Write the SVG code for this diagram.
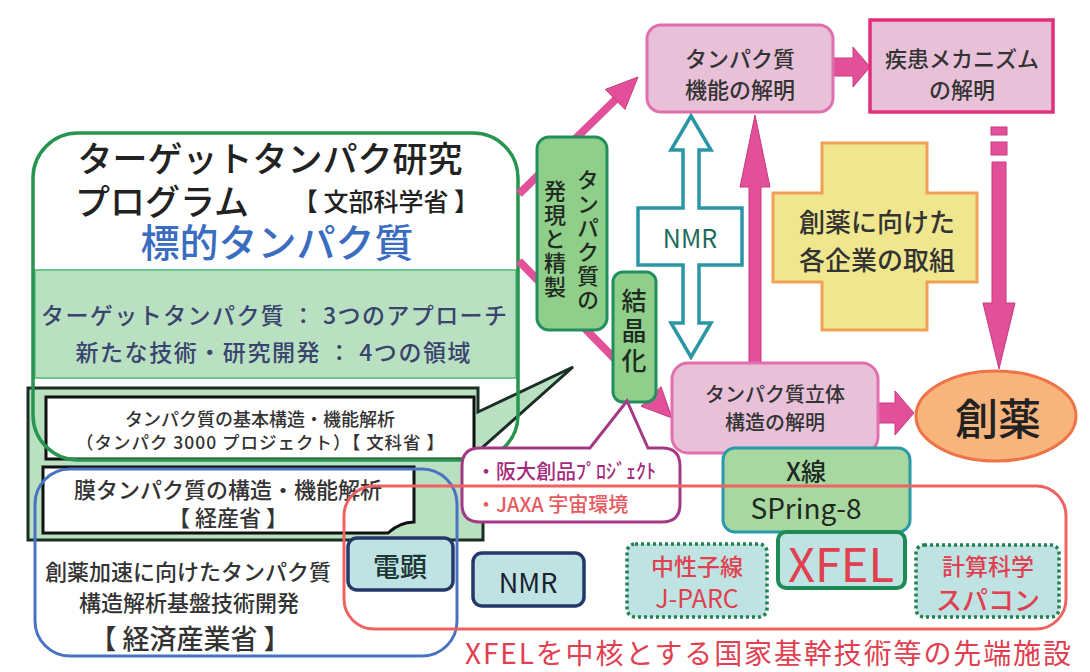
<svg xmlns="http://www.w3.org/2000/svg" width="1090" height="672" viewBox="0 0 1090 672" fill="#333">
<style>
text{font-family:"Noto Sans CJK JP","Noto Sans",sans-serif;dominant-baseline:central;text-anchor:middle;font-weight:500}
.lt{font-weight:400}
.pk{fill:#e8c1d9;stroke:#e06fae;stroke-width:3}
.pa{fill:#e2509a;stroke:#c8387f;stroke-width:1}
.pl{stroke:#e2509a;stroke-width:8;fill:none}
.gv{fill:#8fcf89;stroke:#22905e;stroke-width:3}
.tb{fill:#bfe3e3;stroke:#24386a;stroke-width:3.5}
.dot{fill:#bfe3e3;stroke:#1f8050;stroke-width:3.5;stroke-dasharray:3 3}
.rd{fill:#e0404f}
.wb{fill:#fff;stroke:#111;stroke-width:3}
.vt{writing-mode:vertical-rl;fill:#1f2a22}
</style>

<g id="program">
  <rect x="33" y="133" width="485" height="327" rx="45" fill="#fff"/>
  <rect x="35" y="270" width="481" height="108" fill="#b9e0c1" stroke="#74c68c" stroke-width="2"/>
  <text x="270" y="156" font-size="35" fill="#222">ターゲットタンパク研究</text>
  <text x="75" y="199" font-size="35" fill="#222" style="text-anchor:start">プログラム</text>
  <text x="386" y="200" font-size="25" fill="#222">【 文部科学省 】</text>
  <text x="277" y="240" font-size="39" fill="#3a6cc0">標的タンパク質</text>
  <text x="274" y="314" font-size="23" fill="#39456e" textLength="466">ターゲットタンパク質 ： 3つのアプローチ</text>
  <text x="273" y="351" font-size="23" fill="#39456e" textLength="395">新たな技術・研究開発 ： 4つの領域</text>
</g>

<g id="callout">
  <path d="M28,388 H478 V412 L573,367 L483,447 V540 H28 Z" fill="#b9e0c1" stroke="#1b2e26" stroke-width="3"/>
</g>

<g id="basic-analysis">
  <rect x="46" y="397" width="428" height="62" class="wb"/>
  <text x="260" y="418" font-size="18">タンパク質の基本構造・機能解析</text>
  <text x="260" y="441" font-size="17.5" textLength="368">（タンパク 3000 プロジェクト）【 文科省 】</text>
</g>

<g id="membrane-analysis">
  <path d="M43,467 H414 V522 Q400,522 388,533 H43 Z" class="wb"/>
  <text x="228" y="488" font-size="22">膜タンパク質の構造・機能解析</text>
  <text x="228" y="516" font-size="22">【 経産省 】</text>
</g>

<g id="program-outline">
  <rect x="33" y="133" width="485" height="327" rx="45" fill="none" stroke="#27954f" stroke-width="3.5"/>
</g>

<g id="meti">
  <rect x="35" y="469" width="422" height="187" rx="35" fill="none" stroke="#4a72c2" stroke-width="3"/>
  <text x="188" y="570" font-size="22">創薬加速に向けたタンパク質</text>
  <text x="189" y="601" font-size="22">構造解析基盤技術開発</text>
  <text x="190" y="637" font-size="27">【 経済産業省 】</text>
</g>

<g id="connectors">
  <line x1="519" y1="194" x2="616" y2="99" class="pl"/>
  <polygon points="638,77 625,109.4 605.4,89.4" class="pa"/>
  <line x1="519" y1="261" x2="652" y2="397" class="pl"/>
  <polygon points="672,418 661,386.7 641,406.3" class="pa"/>
  <polygon points="833,58 853,58 853,47 870,67 853,87 853,76 833,76" class="pa"/>
  <polygon points="878,403 895,403 895,391 914,413 895,435 895,423 878,423" class="pa"/>
  <polygon points="749,363 749,187 740,187 755,115 770,187 761,187 761,363" class="pa"/>
  <rect x="991" y="127" width="16" height="8" class="pa"/>
  <rect x="991" y="142" width="16" height="13" class="pa"/>
  <polygon points="992,162 1006,162 1006,303 1015,303 999,369 983,303 992,303" class="pa"/>
  <g id="nmr-arrow">
    <polygon points="691,116 711,150 699,150 699,208 742,208 742,265 699,265 699,323 711,323 691,357 671,323 683,323 683,265 638,265 638,208 683,208 683,150 671,150" fill="#fff" stroke="#2a96a4" stroke-width="3.5"/>
    <text x="690" y="237" font-size="25" fill="#1e6b5c" class="lt">NMR</text>
  </g>
</g>

<g id="expression">
  <rect x="537" y="137" width="70" height="193" rx="12" class="gv"/>
  <text x="588" y="241" font-size="22" letter-spacing="2" class="vt">タンパク質の</text>
  <text x="555" y="240" font-size="22" letter-spacing="2" class="vt">発現と精製</text>
</g>

<g id="crystal">
  <rect x="613" y="272" width="43" height="130" rx="10" class="gv"/>
  <text x="634" y="333" font-size="25" letter-spacing="5" class="vt">結晶化</text>
</g>

<g id="function">
  <rect x="647" y="25" width="186" height="87" rx="14" class="pk"/>
  <text x="740" y="57" font-size="22">タンパク質</text>
  <text x="740" y="88" font-size="22">機能の解明</text>
</g>

<g id="disease">
  <rect x="870" y="20" width="183" height="92" fill="#e8c1d9" stroke="#e0307a" stroke-width="3.5"/>
  <text x="962" y="57" font-size="22">疾患メカニズム</text>
  <text x="962" y="88" font-size="22">の解明</text>
</g>

<g id="structure">
  <rect x="672" y="363" width="206" height="90" rx="16" class="pk"/>
  <text x="775" y="393" font-size="20">タンパク質立体</text>
  <text x="775" y="421" font-size="20">構造の解明</text>
</g>

<g id="companies">
  <polygon points="822,143 927,143 927,193 977,193 977,282 927,282 927,330 822,330 822,282 773,282 773,193 822,193" fill="#efe68e" stroke="#f0a058" stroke-width="3"/>
  <text x="877" y="220" font-size="26">創薬に向けた</text>
  <text x="877" y="258" font-size="26">各企業の取組</text>
</g>

<g id="drug">
  <ellipse cx="996" cy="416" rx="80" ry="45" fill="#f7b47c" stroke="#ee7448" stroke-width="3"/>
  <text x="998" y="416" font-size="43" fill="#222">創薬</text>
</g>

<g id="bubble">
  <path d="M480,448 H590 L627,401 L648,448 H662 Q680,448 680,466 V504 Q680,522 662,522 H480 Q462,522 462,504 V466 Q462,448 480,448 Z" fill="#fff" stroke="#a33a86" stroke-width="3"/>
  <text x="476" y="470" font-size="20" fill="#a32a7c" style="text-anchor:start">・阪大創品ﾌﾟﾛｼﾞｪｸﾄ</text>
  <text x="476" y="503" font-size="20" fill="#e85a5f" style="text-anchor:start">・JAXA 宇宙環境</text>
</g>

<g id="em">
  <rect x="348" y="538" width="105" height="52" rx="9" class="tb"/>
  <text x="400" y="565" font-size="27" fill="#1c3535">電顕</text>
</g>

<g id="nmr">
  <rect x="473" y="553" width="111" height="53" rx="9" class="tb"/>
  <text x="528" y="581" font-size="27" fill="#1a2230" class="lt">NMR</text>
</g>

<g id="jparc">
  <rect x="627" y="544" width="140" height="73" rx="8" class="dot"/>
  <text x="697" y="565" font-size="23" class="rd">中性子線</text>
  <text x="697" y="597" font-size="25" class="rd lt">J-PARC</text>
</g>

<g id="spring8">
  <rect x="723" y="448" width="187" height="84" rx="12" fill="#a8d8a0" stroke="#2a9aa8" stroke-width="3"/>
  <text x="806" y="470" font-size="25" fill="#1c2a22">X線</text>
  <text x="806" y="507" font-size="28" fill="#1c2a22" class="lt">SPring-8</text>
</g>

<g id="xfel">
  <rect x="778" y="532" width="127" height="56" rx="8" fill="#bfe3e3" stroke="#1f8a55" stroke-width="4"/>
  <text x="841" y="561" font-size="47" class="rd lt">XFEL</text>
</g>

<g id="supercomputer">
  <rect x="916" y="545" width="143" height="72" rx="8" class="dot"/>
  <text x="988" y="565" font-size="23" class="rd">計算科学</text>
  <text x="988" y="598" font-size="26" class="rd">スパコン</text>
</g>

<g id="facilities">
  <rect x="344" y="486" width="722" height="143" rx="30" fill="none" stroke="#f06262" stroke-width="3"/>
  <text x="465" y="652" font-size="28" class="rd lt" style="text-anchor:start" textLength="606">XFELを中核とする国家基幹技術等の先端施設</text>
</g>
</svg>
